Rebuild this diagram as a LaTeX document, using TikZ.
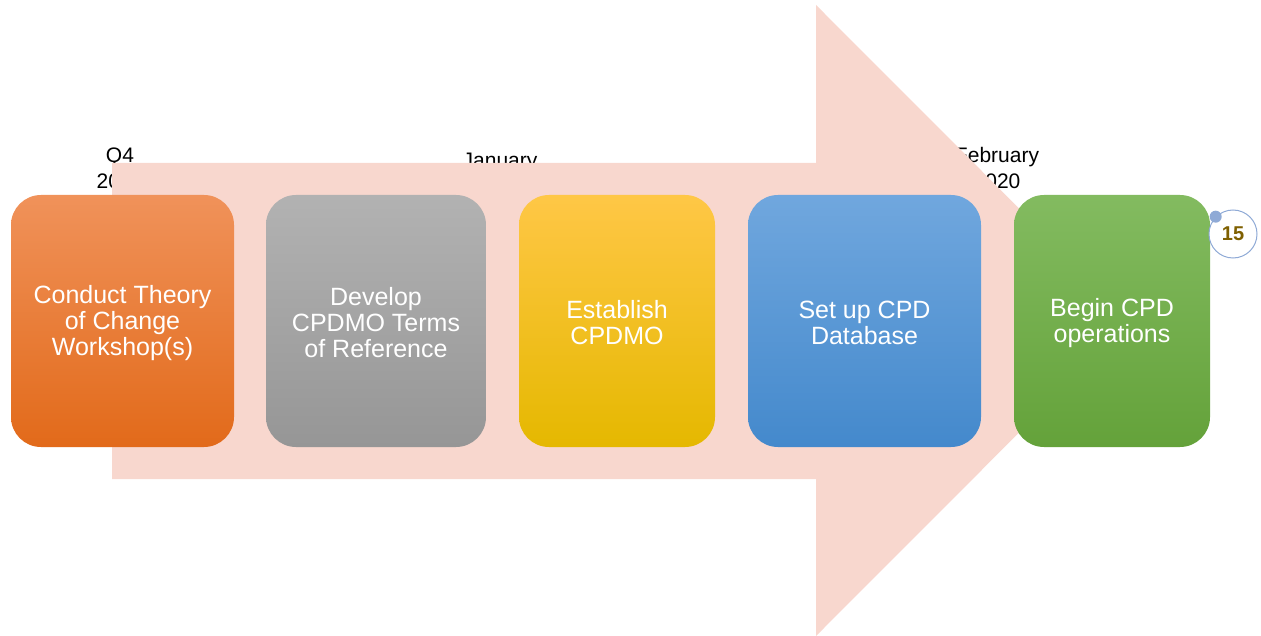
\documentclass[tikz,border=0pt]{standalone}
\usepackage{fontspec}
\setmainfont{Liberation Sans}
\begin{document}
\begin{tikzpicture}[x=1pt,y=-1pt,
  stepbox/.style={rectangle, rounded corners=30pt, minimum height=252pt, inner sep=0pt},
  steptext/.style={text=white, align=center, font=\fontsize{25}{26}\selectfont, inner sep=0pt},
  datelbl/.style={align=center, font=\fontsize{21}{26}\selectfont, text=black},
]
\useasboundingbox (0,0) rectangle (1261,636);
\definecolor{arrowfill}{HTML}{F8D7CE}
\definecolor{ringcol}{HTML}{8FAAD6}
\definecolor{numcol}{HTML}{7F6000}
% date labels (partly hidden by arrow)
\node[datelbl] (d1) at (120,168) {Q4\\2019};
\node[datelbl] (d2) at (500,173) {January\\2020};
\node[datelbl] (d3) at (997,168) {February\\2020};
% big arrow
\fill[arrowfill] (112,163) -- (816,163) -- (816,5) -- (1131,320.5) -- (816,636) -- (816,479) -- (112,479) -- cycle;
% boxes
\node[stepbox, minimum width=223pt, top color={rgb,255:red,240;green,146;blue,90}, bottom color={rgb,255:red,226;green,106;blue,26}] (b1) at (122.5,321) {};
\node[stepbox, minimum width=220pt, top color={rgb,255:red,178;green,178;blue,178}, bottom color={rgb,255:red,150;green,150;blue,150}] (b2) at (376,321) {};
\node[stepbox, minimum width=196pt, top color={rgb,255:red,255;green,199;blue,70}, bottom color={rgb,255:red,229;green,184;blue,0}] (b3) at (617,321) {};
\node[stepbox, minimum width=233pt, top color={rgb,255:red,112;green,167;blue,222}, bottom color={rgb,255:red,68;green,137;blue,204}] (b4) at (864.5,321) {};
\node[stepbox, minimum width=196pt, top color={rgb,255:red,131;green,187;blue,96}, bottom color={rgb,255:red,100;green,162;blue,58}] (b5) at (1112,321) {};
\node[steptext] (t1) at ([yshift=-2pt]b1.center) {Conduct Theory\\of Change\\Workshop(s)};
\node[steptext] (t2) at ([yshift=-2pt]b2.center) {Develop\\CPDMO Terms\\of Reference};
\node[steptext] (t3) at ([yshift=-2pt]b3.center) {Establish\\CPDMO};
\node[steptext] (t4) at ([yshift=-2pt]b4.center) {Set up CPD\\Database};
\node[steptext] (t5) at ([yshift=-2pt]b5.center) {Begin CPD\\operations};
% page number badge
\node[circle, draw=ringcol, line width=1pt, fill=white, minimum size=48pt, inner sep=0pt,
  text=numcol, font=\bfseries\fontsize{20}{22}\selectfont] (pg) at (1233,234) {15};
\fill[ringcol] (pg.135) circle (6pt);
\end{tikzpicture}
\end{document}
